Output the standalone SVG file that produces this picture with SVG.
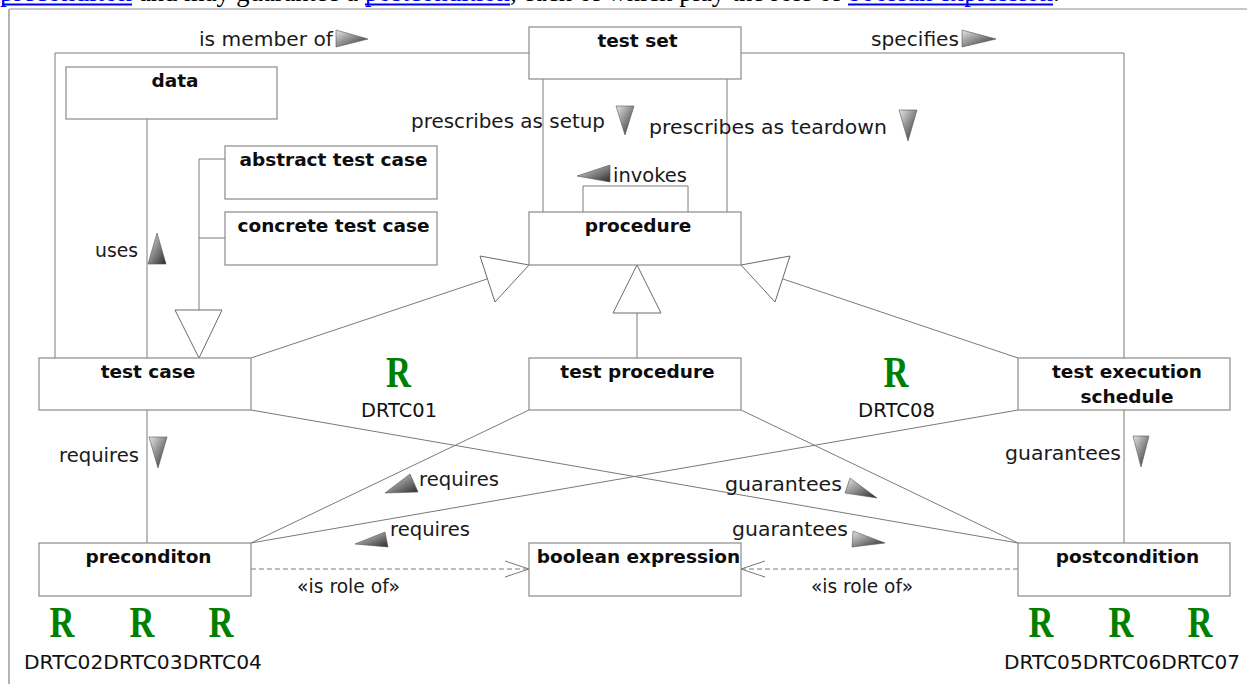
<svg xmlns="http://www.w3.org/2000/svg" width="1247" height="684" viewBox="0 0 1247 684">
  <defs>
    <linearGradient id="dirFill" x1="0" y1="0" x2="1" y2="1">
      <stop offset="0" stop-color="#e6e6e6"/>
      <stop offset="1" stop-color="#2a2a2a"/>
    </linearGradient>
    <style>
      .box { fill: #ffffff; stroke: #8a8a8a; stroke-width: 1.2; }
      .name { font-family: "DejaVu Sans", "Liberation Sans", sans-serif; font-weight: bold; font-size: 18.5px; fill: #0d0d0d; text-anchor: middle; }
      .lbl { font-family: "DejaVu Sans", "Liberation Sans", sans-serif; font-size: 19px; fill: #1a1a1a; }
      .line { fill: none; stroke: #7a7a7a; stroke-width: 1; }
      .dash { fill: none; stroke: #7a7a7a; stroke-width: 1; stroke-dasharray: 5 3; }
      .gen { fill: #ffffff; stroke: #6a6a6a; stroke-width: 1; }
      .dir { fill: url(#dirFill); stroke: #555; stroke-width: 0.6; }
      .req { font-family: "Liberation Serif", serif; font-weight: bold; font-size: 44px; fill: #008000; text-anchor: middle; }
      .code { font-family: "DejaVu Sans", "Liberation Sans", sans-serif; font-size: 19px; fill: #111; }
      .page { font-family: "Liberation Serif", serif; font-size: 27px; }
    </style>
  </defs>

  <rect width="1247" height="684" fill="#ffffff"/>

  <!-- page text above the figure, mostly scrolled out of view -->
  <g id="page-text">
    <text class="page" y="0.5" x="0" fill="#0000ee" textLength="132" lengthAdjust="spacingAndGlyphs">preconditon</text>
    <text class="page" y="0.5" x="139" fill="#000" textLength="219" lengthAdjust="spacingAndGlyphs">and may guarantee a</text>
    <text class="page" y="0.5" x="365" fill="#0000ee" textLength="145" lengthAdjust="spacingAndGlyphs">postcondition</text>
    <text class="page" y="0.5" x="510" fill="#000" textLength="331" lengthAdjust="spacingAndGlyphs">, each of which play the role of</text>
    <text class="page" y="0.5" x="848" fill="#0000ee" textLength="205" lengthAdjust="spacingAndGlyphs">boolean expression</text>
    <text class="page" y="0.5" x="1053" fill="#000">.</text>
    <rect x="2" y="3.5" width="130" height="2" fill="#0000ee"/>
    <rect x="365" y="3.5" width="145" height="2" fill="#0000ee"/>
    <rect x="848" y="3.5" width="205" height="2" fill="#0000ee"/>
  </g>

  <!-- figure frame -->
  <g id="frame">
    <line x1="9" y1="9" x2="1247" y2="9" stroke="#b4b4b4" stroke-width="1.5"/>
    <line x1="9" y1="9" x2="9" y2="684" stroke="#b4b4b4" stroke-width="2"/>
  </g>

  <!-- connectors -->
  <g id="connectors">
    <!-- test set: is member of / specifies -->
    <polyline class="line" points="529,53 55,53 55,358"/>
    <polyline class="line" points="741,53 1124,53 1124,358"/>
    <!-- data used by test case -->
    <line class="line" x1="147" y1="119" x2="147" y2="358"/>
    <!-- setup / teardown -->
    <line class="line" x1="543" y1="79" x2="543" y2="212"/>
    <line class="line" x1="727" y1="79" x2="727" y2="212"/>
    <!-- invokes self loop -->
    <polyline class="line" points="583,212 583,186 688,186 688,212"/>
    <!-- abstract / concrete generalize to test case -->
    <polyline class="line" points="225,159 199,159 199,310"/>
    <line class="line" x1="225" y1="238" x2="199" y2="238"/>
    <polygon class="gen" points="175,310 222,310 199,358"/>
    <!-- generalizations to procedure -->
    <line class="line" x1="251" y1="358" x2="487" y2="279"/>
    <polygon class="gen" points="529,265 480,256 495,302"/>
    <line class="line" x1="637" y1="358" x2="637" y2="313"/>
    <polygon class="gen" points="637,265 613,313 661,313"/>
    <line class="line" x1="1018" y1="358" x2="783" y2="279"/>
    <polygon class="gen" points="741,265 790,256 775,302"/>
    <!-- requires / guarantees -->
    <line class="line" x1="147" y1="410" x2="147" y2="543"/>
    <line class="line" x1="1124" y1="410" x2="1124" y2="543"/>
    <line class="line" x1="529" y1="410" x2="251" y2="543"/>
    <line class="line" x1="1018" y1="410" x2="251" y2="543"/>
    <line class="line" x1="251" y1="410" x2="1018" y2="543"/>
    <line class="line" x1="741" y1="410" x2="1018" y2="543"/>
    <!-- is role of -->
    <line class="dash" x1="251" y1="569" x2="528" y2="569"/>
    <polyline class="line" points="505,561 529,569 505,577"/>
    <line class="dash" x1="1018" y1="569" x2="742" y2="569"/>
    <polyline class="line" points="765,561 741,569 765,577"/>

    <!-- direction markers -->
    <polygon class="dir" points="336,30 336,47 368,39"/>
    <polygon class="dir" points="962,30 962,47 996,39"/>
    <polygon class="dir" points="616,106 634,106 625,135"/>
    <polygon class="dir" points="899,110 917,110 908,141"/>
    <polygon class="dir" points="610,165 610,182 577,176"/>
    <polygon class="dir" points="148,264 166,264 157,233"/>
    <polygon class="dir" points="149,437 167,437 158,468"/>
    <polygon class="dir" points="385,493 410,474 418,492"/>
    <polygon class="dir" points="355,544 385,532 388,547"/>
    <polygon class="dir" points="850,478 845,493 877,498"/>
    <polygon class="dir" points="853,531 852,547 885,543"/>
    <polygon class="dir" points="1133,436 1149,436 1141,467"/>

    <!-- labels -->
    <text class="lbl" x="199" y="46" textLength="134" lengthAdjust="spacingAndGlyphs">is member of</text>
    <text class="lbl" x="871" y="46" textLength="88" lengthAdjust="spacingAndGlyphs">specifies</text>
    <text class="lbl" x="411" y="128" textLength="194" lengthAdjust="spacingAndGlyphs">prescribes as setup</text>
    <text class="lbl" x="649" y="134" textLength="238" lengthAdjust="spacingAndGlyphs">prescribes as teardown</text>
    <text class="lbl" x="613" y="182" textLength="74" lengthAdjust="spacingAndGlyphs">invokes</text>
    <text class="lbl" x="95" y="257" textLength="43" lengthAdjust="spacingAndGlyphs">uses</text>
    <text class="lbl" x="59" y="462" textLength="80" lengthAdjust="spacingAndGlyphs">requires</text>
    <text class="lbl" x="419" y="486" textLength="80" lengthAdjust="spacingAndGlyphs">requires</text>
    <text class="lbl" x="390" y="536" textLength="80" lengthAdjust="spacingAndGlyphs">requires</text>
    <text class="lbl" x="725" y="491" textLength="117" lengthAdjust="spacingAndGlyphs">guarantees</text>
    <text class="lbl" x="732" y="536" textLength="116" lengthAdjust="spacingAndGlyphs">guarantees</text>
    <text class="lbl" x="1005" y="460" textLength="116" lengthAdjust="spacingAndGlyphs">guarantees</text>
    <text class="lbl" x="297" y="593" textLength="103" lengthAdjust="spacingAndGlyphs">«is role of»</text>
    <text class="lbl" x="811" y="593" textLength="102" lengthAdjust="spacingAndGlyphs">«is role of»</text>
  </g>

  <!-- nodes -->
  <g id="test-set">
    <rect class="box" x="529" y="27" width="212" height="52"/>
    <text class="name" x="637.5" y="47">test set</text>
  </g>
  <g id="data">
    <rect class="box" x="66" y="67" width="211" height="52"/>
    <text class="name" x="175" y="87">data</text>
  </g>
  <g id="abstract-test-case">
    <rect class="box" x="225" y="146" width="212" height="53"/>
    <text class="name" x="333.5" y="166">abstract test case</text>
  </g>
  <g id="concrete-test-case">
    <rect class="box" x="225" y="212" width="212" height="53"/>
    <text class="name" x="333.5" y="232">concrete test case</text>
  </g>
  <g id="procedure">
    <rect class="box" x="529" y="212" width="212" height="53"/>
    <text class="name" x="638" y="232">procedure</text>
  </g>
  <g id="test-case">
    <rect class="box" x="39" y="358" width="212" height="52"/>
    <text class="name" x="148" y="378">test case</text>
  </g>
  <g id="test-procedure">
    <rect class="box" x="529" y="358" width="212" height="52"/>
    <text class="name" x="637.5" y="378">test procedure</text>
  </g>
  <g id="test-execution-schedule">
    <rect class="box" x="1018" y="358" width="212" height="52"/>
    <text class="name" x="1127" y="378">test execution</text>
    <text class="name" x="1127" y="403">schedule</text>
  </g>
  <g id="preconditon">
    <rect class="box" x="39" y="543" width="212" height="53"/>
    <text class="name" x="148.5" y="563">preconditon</text>
  </g>
  <g id="boolean-expression">
    <rect class="box" x="529" y="543" width="212" height="53"/>
    <text class="name" x="638.5" y="563">boolean expression</text>
  </g>
  <g id="postcondition">
    <rect class="box" x="1018" y="543" width="212" height="53"/>
    <text class="name" x="1127.5" y="563">postcondition</text>
  </g>

  <!-- requirement marks -->
  <g id="requirements">
    <text class="req" x="398.5" y="387" textLength="25" lengthAdjust="spacingAndGlyphs">R</text>
    <text class="code" x="361" y="417" textLength="76" lengthAdjust="spacingAndGlyphs">DRTC01</text>
    <text class="req" x="896" y="387" textLength="25" lengthAdjust="spacingAndGlyphs">R</text>
    <text class="code" x="858" y="417" textLength="77" lengthAdjust="spacingAndGlyphs">DRTC08</text>

    <text class="req" x="62" y="637" textLength="25" lengthAdjust="spacingAndGlyphs">R</text>
    <text class="req" x="142" y="637" textLength="25" lengthAdjust="spacingAndGlyphs">R</text>
    <text class="req" x="221" y="637" textLength="25" lengthAdjust="spacingAndGlyphs">R</text>
    <text class="code" x="24" y="669" textLength="238" lengthAdjust="spacingAndGlyphs">DRTC02DRTC03DRTC04</text>

    <text class="req" x="1041" y="637" textLength="25" lengthAdjust="spacingAndGlyphs">R</text>
    <text class="req" x="1121" y="637" textLength="25" lengthAdjust="spacingAndGlyphs">R</text>
    <text class="req" x="1200" y="637" textLength="25" lengthAdjust="spacingAndGlyphs">R</text>
    <text class="code" x="1004" y="669" textLength="236" lengthAdjust="spacingAndGlyphs">DRTC05DRTC06DRTC07</text>
  </g>
</svg>
